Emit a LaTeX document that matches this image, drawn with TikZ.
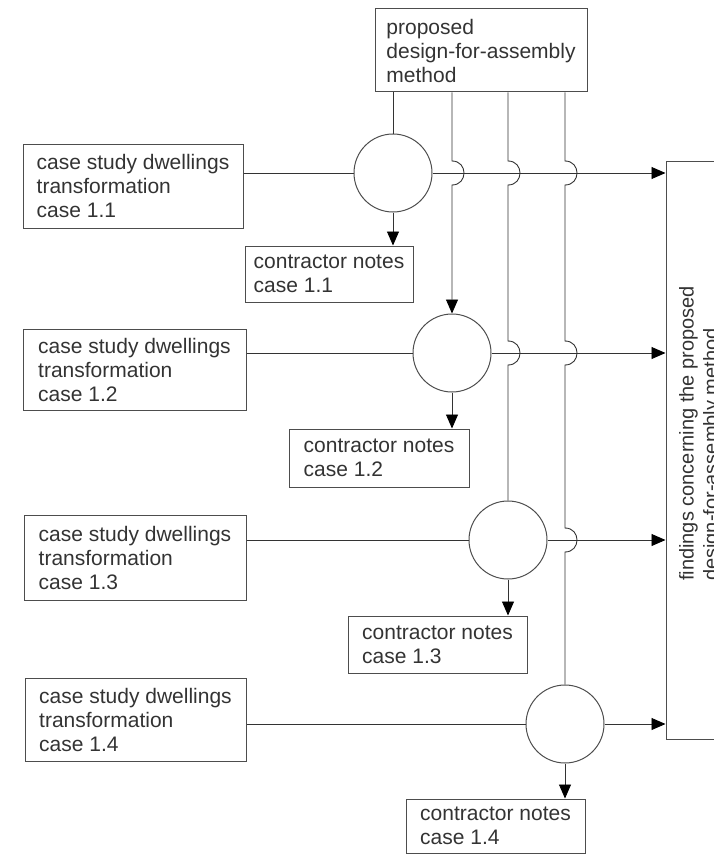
\documentclass[tikz,border=0pt]{standalone}
\usepackage{fontspec}
\setmainfont{Liberation Sans}
\usetikzlibrary{arrows.meta,calc}
\definecolor{ink}{HTML}{333333}
\definecolor{frame}{HTML}{4D4D4D}
% a vertical line hopping to the right over a horizontal one at #1
\newcommand\hopover[1]{-- ([yshift=12pt]#1) .. controls ([shift={(16pt,12pt)}]#1) and ([shift={(16pt,-12pt)}]#1) .. ([yshift=-12pt]#1)}
\begin{document}
\begin{tikzpicture}[x=1pt,y=-1pt,
  every node/.style={font=\fontsize{21}{24}\selectfont, text=ink},
  box/.style={draw=frame, line width=1pt, align=left, inner sep=0pt},
  joint/.style={draw=frame, line width=1pt, circle, minimum size=78pt, inner sep=0pt},
  link/.style={draw=ink, line width=0.9pt},
  flow/.style={link, -{Triangle[length=14pt,width=12pt,color=black]}},
]
\useasboundingbox (0,0) rectangle (713,856);

% method box and findings box
\node[box, minimum width=212pt, minimum height=83pt] (T) at (481,50.5)
  {proposed\\design-for-assembly\\method};
\node[box, minimum width=114pt, minimum height=578pt] (F) at (723,450) {};
\node[rotate=90, anchor=north west, align=left, inner sep=0pt,
      font=\fontsize{20}{24}\selectfont] (Ftext) at (679,581)
  {findings concerning the proposed\\design-for-assembly method};

% case study inputs
\node[box, minimum width=220pt, minimum height=84pt] (L1) at (133,186)
  {case study dwellings\\transformation\\case 1.1};
\node[box, minimum width=223pt, minimum height=81pt] (L2) at (134.5,369.5)
  {case study dwellings\\transformation\\case 1.2};
\node[box, minimum width=222pt, minimum height=85pt] (L3) at (135,557.5)
  {case study dwellings\\transformation\\case 1.3};
\node[box, minimum width=221pt, minimum height=83pt] (L4) at (135.5,719.5)
  {case study dwellings\\transformation\\case 1.4};

% junctions
\node[joint] (K1) at (393,173) {};
\node[joint] (K2) at (452,353) {};
\node[joint] (K3) at (508,540) {};
\node[joint] (K4) at (565,724) {};

% contractor notes
\node[box, minimum width=168pt, minimum height=56pt] (C1) at (329,274)
  {contractor notes\\case 1.1};
\node[box, minimum width=180pt, minimum height=58pt] (C2) at (379,458)
  {contractor notes\\case 1.2};
\node[box, minimum width=179pt, minimum height=57pt] (C3) at (437.5,644.5)
  {contractor notes\\case 1.3};
\node[box, minimum width=179pt, minimum height=54pt] (C4) at (495.5,826)
  {contractor notes\\case 1.4};

% crossings of the method lines with the rows
\coordinate (h21) at (K2.north |- K1.center);
\coordinate (h31) at (K3.north |- K1.center);
\coordinate (h32) at (K3.north |- K2.center);
\coordinate (h41) at (K4.north |- K1.center);
\coordinate (h42) at (K4.north |- K2.center);
\coordinate (h43) at (K4.north |- K3.center);

% rows: input -> junction -> findings, junction -> notes
\foreach \i in {1,2,3,4}{
  \draw[link] (L\i.east |- K\i.west) -- (K\i.west);
  \draw[flow] (K\i.east) -- (K\i.east -| F.west);
  \draw[flow] (K\i.south) -- (K\i.south |- C\i.north);
}

% method lines down to each junction
\draw[link] (K1.north |- T.south) -- (K1.north);
\draw[flow] (K2.north |- T.south) \hopover{h21} -- (K2.north);
\draw[link] (K3.north |- T.south) \hopover{h31} \hopover{h32} -- (K3.north);
\draw[link] (K4.north |- T.south) \hopover{h41} \hopover{h42} \hopover{h43} -- (K4.north);
\end{tikzpicture}
\end{document}
